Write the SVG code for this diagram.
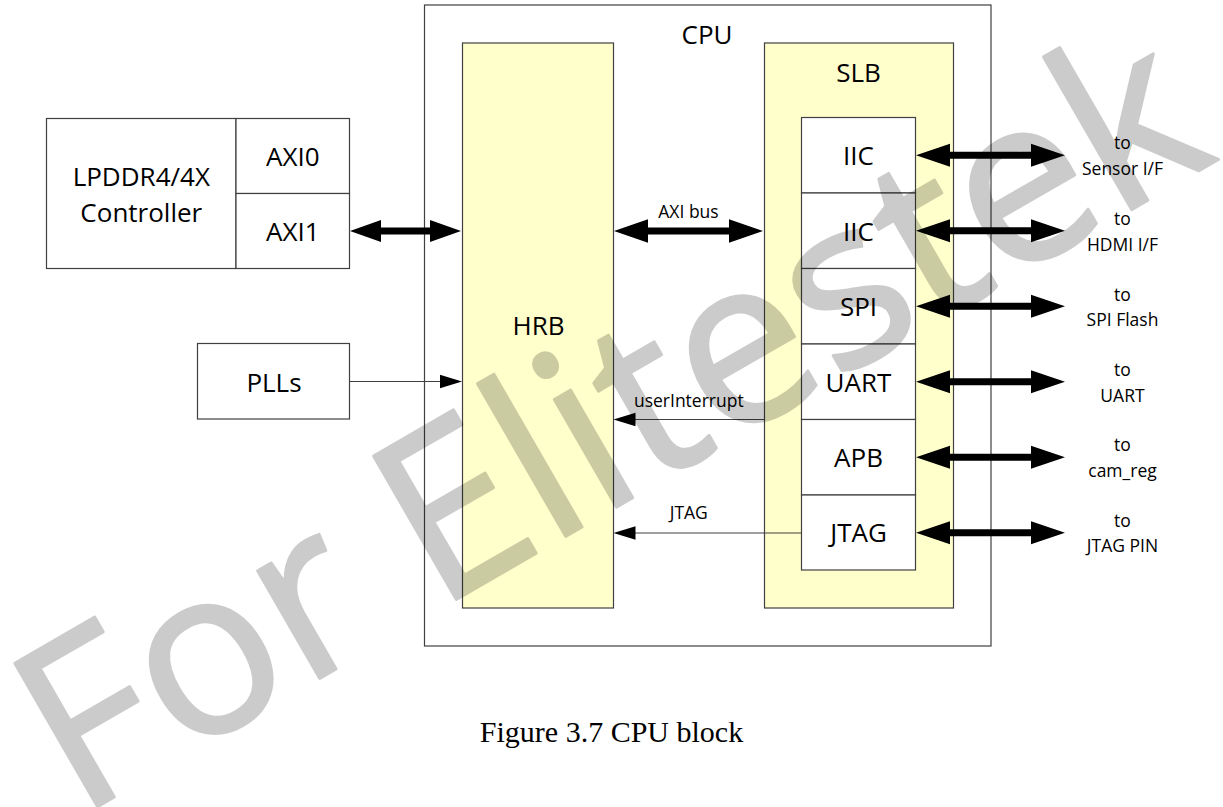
<svg xmlns="http://www.w3.org/2000/svg" width="1223" height="807" viewBox="0 0 1223 807">
<style>
.box{fill:#ffffff;stroke:#404040;stroke-width:1.2}
.blk{fill:#ffffcc;stroke:#404040;stroke-width:1.2}
.ln{fill:none;stroke:#404040;stroke-width:1.2}
.big{font-family:"Open Sans","Liberation Sans",sans-serif;font-size:26px;fill:#000;text-anchor:middle}
.sm{font-family:"Open Sans","Liberation Sans",sans-serif;font-size:17.5px;fill:#000;text-anchor:middle}
.thick{fill:#000;stroke:none}
.head{fill:#000;stroke:none}
.cap{font-family:"Liberation Serif","Times New Roman",serif;font-size:30px;fill:#000;text-anchor:middle}
</style>
<rect width="1223" height="807" fill="#ffffff"/>

<g id="cpu">
<rect class="box" x="424.5" y="5" width="566.5" height="641"/>
<text class="big" x="707" y="44">CPU</text>
</g>

<g id="hrb">
<rect class="blk" x="462.5" y="43" width="151" height="565"/>
<text class="big" x="538.5" y="335">HRB</text>
</g>

<g id="slb">
<rect class="blk" x="764.5" y="43" width="189" height="565"/>
<text class="big" x="858.5" y="82">SLB</text>
</g>

<g id="iic1">
<rect class="box" x="801.5" y="117.5" width="114" height="75.5"/>
<text class="big" x="858.5" y="165">IIC</text>
</g>
<g id="iic2">
<rect class="box" x="801.5" y="193" width="114" height="75.5"/>
<text class="big" x="858.5" y="240.5">IIC</text>
</g>
<g id="spi">
<rect class="box" x="801.5" y="268.5" width="114" height="75.5"/>
<text class="big" x="858.5" y="316">SPI</text>
</g>
<g id="uart">
<rect class="box" x="801.5" y="344" width="114" height="75.5"/>
<text class="big" x="858.5" y="391.5">UART</text>
</g>
<g id="apb">
<rect class="box" x="801.5" y="419.5" width="114" height="75.5"/>
<text class="big" x="858.5" y="467">APB</text>
</g>
<g id="jtag">
<rect class="box" x="801.5" y="495" width="114" height="75"/>
<text class="big" x="858.5" y="542">JTAG</text>
</g>

<g id="lpddr">
<rect class="box" x="46.5" y="118.5" width="189.5" height="150"/>
<text class="big" x="141.3" y="186">LPDDR4/4X</text>
<text class="big" x="141.3" y="222">Controller</text>
</g>
<g id="axi0">
<rect class="box" x="236" y="118.5" width="113.5" height="75"/>
<text class="big" x="292.8" y="165.5">AXI0</text>
</g>
<g id="axi1">
<rect class="box" x="236" y="193.5" width="113.5" height="75"/>
<text class="big" x="292.8" y="240.5">AXI1</text>
</g>

<g id="plls">
<rect class="box" x="197.5" y="343.5" width="152" height="75.5"/>
<text class="big" x="274" y="392">PLLs</text>
</g>

<g id="connectors">
<!-- AXI1 <-> HRB -->
<path class="thick" d="M350,231 L381,220 L381,227.6 L430,227.6 L430,220 L461,231 L430,242 L430,234.4 L381,234.4 L381,242 Z"/>
<!-- AXI bus -->
<path class="thick" d="M614,231 L648,219.3 L648,227.6 L729,227.6 L729,219.3 L763,231 L729,242.7 L729,234.4 L648,234.4 L648,242.7 Z"/>
<text class="sm" x="688.5" y="218.3">AXI bus</text>
<!-- PLLs -> HRB -->
<line class="ln" x1="349.5" y1="381.5" x2="441" y2="381.5"/>
<polygon class="head" points="462,381.5 440,374.8 440,388.2"/>
<!-- userInterrupt -->
<line class="ln" x1="764.5" y1="419.5" x2="634" y2="419.5"/>
<polygon class="head" points="613.5,419.5 635.5,412.8 635.5,426.2"/>
<text class="sm" x="688.8" y="406.7">userInterrupt</text>
<!-- JTAG -->
<line class="ln" x1="801.5" y1="533" x2="634" y2="533"/>
<polygon class="head" points="613.5,533 635.5,526.3 635.5,539.7"/>
<text class="sm" x="688.8" y="519.3">JTAG</text>
<!-- right side -->
<path class="thick" d="M916,155.3 L950,143.8 L950,151.8 L1031,151.8 L1031,143.8 L1065,155.3 L1031,166.8 L1031,158.8 L950,158.8 L950,166.8 Z"/>
<path class="thick" d="M916,230.8 L950,219.3 L950,227.3 L1031,227.3 L1031,219.3 L1065,230.8 L1031,242.3 L1031,234.3 L950,234.3 L950,242.3 Z"/>
<path class="thick" d="M916,306.3 L950,294.8 L950,302.8 L1031,302.8 L1031,294.8 L1065,306.3 L1031,317.8 L1031,309.8 L950,309.8 L950,317.8 Z"/>
<path class="thick" d="M916,381.8 L950,370.3 L950,378.3 L1031,378.3 L1031,370.3 L1065,381.8 L1031,393.3 L1031,385.3 L950,385.3 L950,393.3 Z"/>
<path class="thick" d="M916,457.3 L950,445.8 L950,453.8 L1031,453.8 L1031,445.8 L1065,457.3 L1031,468.8 L1031,460.8 L950,460.8 L950,468.8 Z"/>
<path class="thick" d="M916,532.8 L950,521.3 L950,529.3 L1031,529.3 L1031,521.3 L1065,532.8 L1031,544.3 L1031,536.3 L950,536.3 L950,544.3 Z"/>
</g>

<g id="ext-labels">
<text class="sm" x="1122.5" y="149">to</text>
<text class="sm" x="1122.5" y="175">Sensor I/F</text>
<text class="sm" x="1122.5" y="225">to</text>
<text class="sm" x="1122.5" y="250.5">HDMI I/F</text>
<text class="sm" x="1122.5" y="300.5">to</text>
<text class="sm" x="1122.5" y="326">SPI Flash</text>
<text class="sm" x="1122.5" y="376">to</text>
<text class="sm" x="1122.5" y="401.5">UART</text>
<text class="sm" x="1122.5" y="451">to</text>
<text class="sm" x="1122.5" y="477">cam_reg</text>
<text class="sm" x="1122.5" y="526.7">to</text>
<text class="sm" x="1122.5" y="552">JTAG PIN</text>
</g>

<text class="cap" x="611.5" y="741.7">Figure 3.7 CPU block</text>

<g id="watermark" opacity="0.2">
<text transform="translate(78,818) rotate(-30)" font-family="Open Sans, sans-serif" font-size="232" fill="#000" stroke="#000" stroke-width="3" stroke-linejoin="round">For Elitestek</text>
</g>
</svg>
